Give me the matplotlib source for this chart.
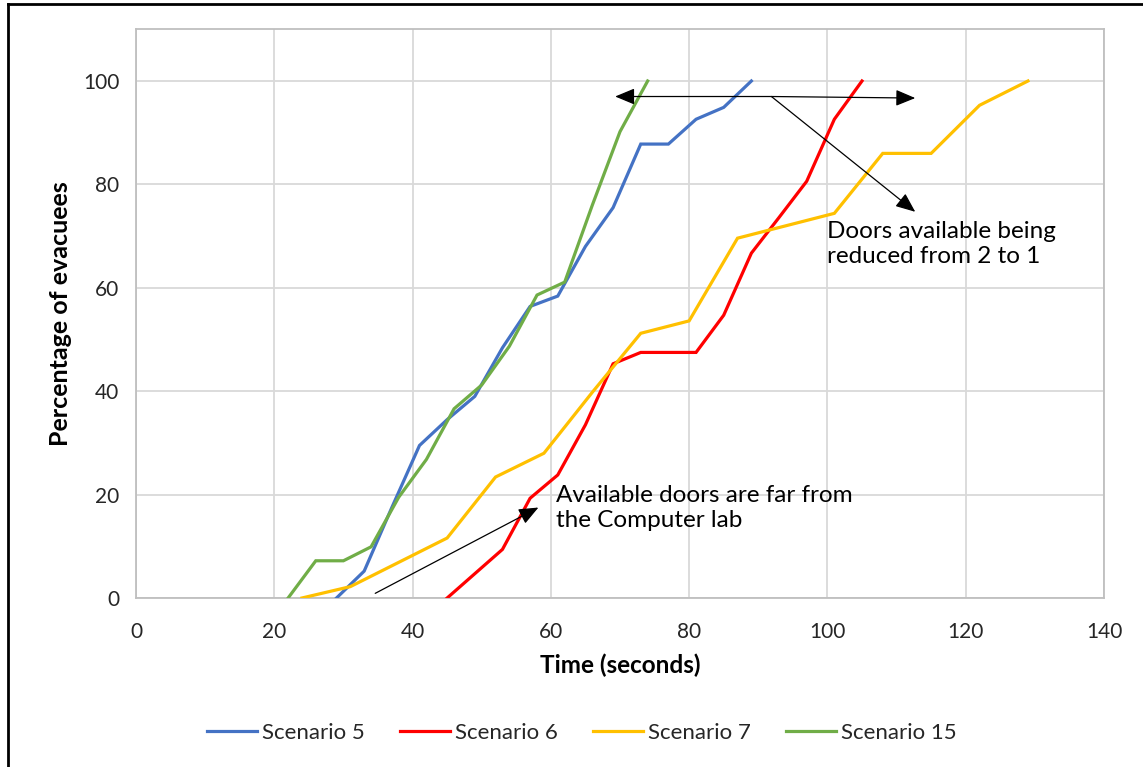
import matplotlib
matplotlib.use("Agg")
import matplotlib.pyplot as plt
from matplotlib.lines import Line2D

plt.rcParams['font.family'] = ['Lato', 'DejaVu Sans']

# Evacuation progress per scenario: time (s) vs percentage of evacuees
s5_time = [29, 33, 37, 41, 45, 49, 53, 57, 61, 65, 69, 73, 77, 81, 85, 89]
s5_pct = [0, 5.2, 17.5, 29.5, 34.5, 39.0, 48.4, 56.4, 58.4, 68.0, 75.5, 87.8, 87.8, 92.6, 94.9, 100]

s6_time = [45, 49, 53, 57, 61, 65, 69, 73, 77, 81, 85, 89, 93, 97, 101, 105]
s6_pct = [0, 4.7, 9.4, 19.3, 23.8, 33.5, 45.3, 47.5, 47.5, 47.5, 54.7, 66.7, 73.6, 80.6, 92.6, 100]

s7_time = [24, 31, 38, 45, 52, 59, 66, 73, 80, 87, 94, 101, 108, 115, 122, 129]
s7_pct = [0, 2.2, 6.9, 11.6, 23.4, 28.0, 39.8, 51.2, 53.6, 69.6, 72.0, 74.4, 86.0, 86.0, 95.3, 100]

s15_time = [22, 26, 30, 34, 38, 42, 46, 50, 54, 58, 62, 66, 70, 74]
s15_pct = [0, 7.2, 7.2, 9.9, 19.5, 26.8, 36.6, 41.2, 48.7, 58.6, 61.1, 76.0, 90.2, 100]

series_labels = ["Scenario 5", "Scenario 6", "Scenario 7", "Scenario 15"]
series_colors = ["#4472C4", "#FF0000", "#FFC000", "#70AD47"]

x_ticks = [0, 20, 40, 60, 80, 100, 120, 140]
y_ticks = [0, 20, 40, 60, 80, 100]

fig = plt.figure(figsize=(11.43, 7.67), dpi=100)
ax = fig.add_axes([136 / 1143, 1 - 598 / 767, (1104 - 136) / 1143, (598 - 29.3) / 767])

series = [(s5_time, s5_pct), (s6_time, s6_pct), (s7_time, s7_pct), (s15_time, s15_pct)]
for (t, p), lab, col in zip(series, series_labels, series_colors):
    ax.plot(t, p, color=col, lw=2.3, label=lab, solid_joinstyle='miter', zorder=3)

ax.set_xlim(0, 140)
ax.set_ylim(0, 110)
ax.set_xticks(x_ticks)
ax.set_yticks(y_ticks)
ax.grid(True, color="#d9d9d9", lw=1.3, zorder=0)
ax.set_axisbelow(True)
for side in ["top", "right", "left", "bottom"]:
    ax.spines[side].set_color("#bfbfbf")
    ax.spines[side].set_linewidth(1.3)
ax.tick_params(axis='both', length=0, labelsize=15, labelcolor="#262626")
ax.tick_params(axis='x', pad=17)
ax.tick_params(axis='y', pad=12)

ax.set_xlabel("Time (seconds)", fontsize=17.5, fontweight='bold', color="#000000")
ax.xaxis.set_label_coords(0.5, -0.098)
ax.set_ylabel("Percentage of evacuees", fontsize=18, fontweight='bold', color="#000000")
ax.yaxis.set_label_coords(-0.066, 0.5)

# Annotations
arrow_kw = dict(arrowstyle="-|>,head_length=1.2,head_width=0.5", color="black", lw=0.9,
                shrinkA=0, shrinkB=0)
ax.annotate("", xy=(58.2, 17.5), xytext=(34.6, 0.9), arrowprops=arrow_kw, zorder=5)
ax.text(60.7, 17.4, "Available doors are far from\nthe Computer lab", fontsize=17.5,
        va='center', ha='left', linespacing=1.25, color="#000000")

ax.annotate("", xy=(69.3, 97.0), xytext=(91.9, 97.0), arrowprops=arrow_kw, zorder=5)
ax.annotate("", xy=(112.7, 96.7), xytext=(91.9, 97.0), arrowprops=arrow_kw, zorder=5)
ax.annotate("", xy=(112.7, 74.7), xytext=(91.9, 97.0), arrowprops=arrow_kw, zorder=5)
ax.text(100.0, 68.5, "Doors available being\nreduced from 2 to 1", fontsize=17.5,
        va='center', ha='left', linespacing=1.25, color="#000000")

handles = [Line2D([0], [0], color=c, lw=2.3) for c in series_colors]
fig.legend(handles, series_labels, loc='center', bbox_to_anchor=(0.509, 1 - 733 / 767),
           ncol=4, frameon=False, fontsize=16, handlelength=2.25, handletextpad=0.22,
           columnspacing=1.6, labelcolor="#262626")

# Outer frame lines along the top and left edges
fig.add_artist(Line2D([8 / 1143, 1], [1 - 3.5 / 767, 1 - 3.5 / 767], color="black", lw=2,
                      transform=fig.transFigure))
fig.add_artist(Line2D([8 / 1143, 8 / 1143], [0, 1 - 3.5 / 767], color="black", lw=2,
                      transform=fig.transFigure))

fig.savefig("out.png", dpi=100)
